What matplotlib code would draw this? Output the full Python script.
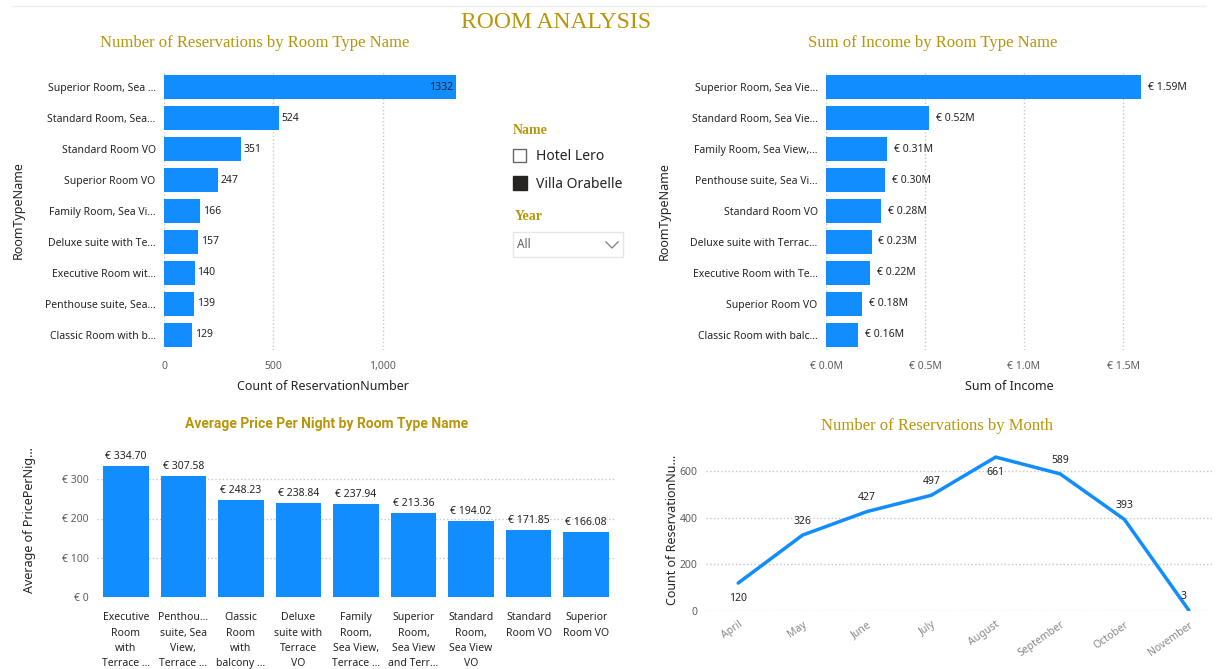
import numpy as np
import matplotlib
matplotlib.use("Agg")
import matplotlib.pyplot as plt
from matplotlib.patches import Rectangle
from matplotlib.lines import Line2D

rooms_count = ['Superior Room, Sea ...', 'Standard Room, Sea...', 'Standard Room VO',
               'Superior Room VO', 'Family Room, Sea Vi...', 'Deluxe suite with Te...',
               'Executive Room wit...', 'Penthouse suite, Sea...', 'Classic Room with b...']
count_values = [1332, 524, 351, 247, 166, 157, 140, 139, 129]

rooms_income = ['Superior Room, Sea Vie...', 'Standard Room, Sea Vie...', 'Family Room, Sea View,...',
                'Penthouse suite, Sea Vi...', 'Standard Room VO', 'Deluxe suite with Terrac...',
                'Executive Room with Te...', 'Superior Room VO', 'Classic Room with balc...']
income_values = [1.59, 0.52, 0.31, 0.30, 0.28, 0.23, 0.22, 0.18, 0.16]  # millions

rooms_price = ['Executive\nRoom\nwith\nTerrace ...', 'Penthou...\nsuite, Sea\nView,\nTerrace ...',
               'Classic\nRoom\nwith\nbalcony ...', 'Deluxe\nsuite with\nTerrace\nVO',
               'Family\nRoom,\nSea View,\nTerrace ...', 'Superior\nRoom,\nSea View\nand Terr...',
               'Standard\nRoom,\nSea View\nVO', 'Standard\nRoom VO', 'Superior\nRoom VO']
price_values = [334.70, 307.58, 248.23, 238.84, 237.94, 213.36, 194.02, 171.85, 166.08]

months = ['April', 'May', 'June', 'July', 'August', 'September', 'October', 'November']
month_values = [120, 326, 427, 497, 661, 589, 393, 3]

BLUE = '#118DFF'
GOLD = '#B8960C'
DARK = '#252423'
GRAY = '#605E5C'
SANS = ['Noto Sans', 'DejaVu Sans']
SERIF = ['Liberation Serif', 'DejaVu Serif']

W, H = 1217, 669
fig = plt.figure(figsize=(W / 100, H / 100), dpi=100)
fig.patch.set_facecolor('white')


def px_axes(x0, y0, x1, y1):
    return fig.add_axes([x0 / W, 1 - y1 / H, (x1 - x0) / W, (y1 - y0) / H])


def ftext(x, y, s, **kw):
    fig.text(x / W, 1 - y / H, s, **kw)


def clean(ax):
    for sp in ax.spines.values():
        sp.set_visible(False)
    ax.tick_params(length=0)


fig.add_artist(Line2D([0.01, 0.99], [1 - 6 / H, 1 - 6 / H], color='#EFEFEF', lw=1))
ftext(556, 23, 'ROOM ANALYSIS', family=SERIF, fontsize=17, color=GOLD, ha='center', va='center')

# ---- top left: count by room type
ax1 = px_axes(164, 72, 456, 350)
y = np.arange(len(rooms_count))
ax1.barh(y, count_values, height=0.78, color=BLUE, zorder=2)
ax1.set_ylim(len(y) - 0.5, -0.5)
ax1.set_xlim(0, 1334)
ax1.set_yticks(y)
ax1.set_yticklabels(rooms_count, family=SANS, fontsize=7.5, color=DARK)
ax1.set_xticks([0, 500, 1000])
ax1.set_xticklabels(['0', '500', '1,000'], family=SANS, fontsize=7.5, color=GRAY)
ax1.tick_params(axis='y', pad=6)
ax1.tick_params(axis='x', pad=8)
ax1.grid(axis='x', ls=':', color='#C8C8C8', lw=1, zorder=0)
clean(ax1)
for i, v in enumerate(count_values):
    if v > 1000:
        ax1.text(v - 12, i, str(v), ha='right', va='center', family=SANS, fontsize=7.5, color=DARK)
    else:
        ax1.text(v + 12, i, str(v), ha='left', va='center', family=SANS, fontsize=7.5, color=DARK)
ftext(323, 386, 'Count of ReservationNumber', family=SANS, fontsize=9, color=DARK, ha='center', va='center')
ftext(18, 210, 'RoomTypeName', family=SANS, fontsize=9, color=DARK, rotation=90, ha='center', va='center')
ftext(255, 43, 'Number of Reservations by Room Type Name', family=SERIF, fontsize=12, color=GOLD,
      ha='center', va='center')

# ---- top right: income by room type
ax2 = px_axes(826, 72, 1150, 350)
ax2.barh(y, income_values, height=0.78, color=BLUE, zorder=2)
ax2.set_ylim(len(y) - 0.5, -0.5)
ax2.set_xlim(0, 1.636)
ax2.set_yticks(y)
ax2.set_yticklabels(rooms_income, family=SANS, fontsize=7.5, color=DARK)
ax2.set_xticks([0, 0.5, 1.0, 1.5])
ax2.set_xticklabels(['€ 0.0M', '€ 0.5M', '€ 1.0M', '€ 1.5M'], family=SANS, fontsize=7.5, color=GRAY)
ax2.tick_params(axis='y', pad=6)
ax2.tick_params(axis='x', pad=8)
ax2.grid(axis='x', ls=':', color='#C8C8C8', lw=1, zorder=0)
clean(ax2)
for i, v in enumerate(income_values):
    ax2.text(v + 0.035, i, '€ %.2fM' % v, ha='left', va='center', family=SANS, fontsize=7.5, color=DARK)
ftext(1009, 386, 'Sum of Income', family=SANS, fontsize=9, color=DARK, ha='center', va='center')
ftext(664, 211, 'RoomTypeName', family=SANS, fontsize=9, color=DARK, rotation=90, ha='center', va='center')
ftext(933, 43, 'Sum of Income by Room Type Name', family=SERIF, fontsize=12, color=GOLD,
      ha='center', va='center')

# ---- slicers
ftext(513, 131, 'Name', family=SERIF, fontsize=10, color=GOLD, weight='bold', va='center')
fig.add_artist(Rectangle((513 / W, 1 - 162 / H), 13 / W, 13 / H, fill=False, ec='#666666', lw=1))
ftext(536, 157, 'Hotel Lero', family=SANS, fontsize=10, color=DARK, va='center')
fig.add_artist(Rectangle((513 / W, 1 - 190 / H), 14 / W, 14 / H, fc='#252423', ec='#252423'))
ftext(536, 184, 'Villa Orabelle', family=SANS, fontsize=10, color=DARK, va='center')
ftext(515, 216, 'Year', family=SERIF, fontsize=10, color=GOLD, weight='bold', va='center')
fig.add_artist(Rectangle((513 / W, 1 - 257 / H), 110 / W, 25 / H, fill=False, ec='#E6E6E6', lw=1))
ftext(517, 245, 'All', family=SANS, fontsize=8.5, color=GRAY, va='center')
fig.add_artist(Line2D([606 / W, 612 / W, 618 / W], [1 - 242 / H, 1 - 248 / H, 1 - 242 / H],
                      color='#888888', lw=1))

# ---- bottom left: average price per night
ax3 = px_axes(97, 440, 615, 597)
x = np.arange(len(rooms_price))
ax3.bar(x, price_values, width=0.79, color=BLUE, zorder=2)
ax3.set_xlim(-0.5, len(x) - 0.5)
ax3.set_ylim(0, 400)
ax3.set_yticks([0, 100, 200, 300])
ax3.set_yticklabels(['€ 0', '€ 100', '€ 200', '€ 300'], family=SANS, fontsize=7.5, color=GRAY)
ax3.set_xticks(x)
ax3.set_xticklabels(rooms_price, family=SANS, fontsize=7.5, color=DARK, linespacing=1.55, va='top')
ax3.tick_params(axis='x', pad=11)
ax3.tick_params(axis='y', pad=6)
ax3.grid(axis='y', ls=':', color='#C8C8C8', lw=1, zorder=0)
clean(ax3)
for i, v in enumerate(price_values):
    ax3.text(i, v + 10, '€ %.2f' % v, ha='center', va='bottom', family=SANS, fontsize=7.5, color=DARK)
ftext(30, 520, 'Average of PricePerNig...', family=SANS, fontsize=9, color=DARK, rotation=90,
      ha='center', va='center')
ftext(327, 424, 'Average Price Per Night by Room Type Name', family=['Roboto', 'DejaVu Sans'],
      fontsize=10, weight='bold', color=GOLD, ha='center', va='center')

# ---- bottom right: reservations by month
ax4 = px_axes(706, 448, 1212, 611)
m = np.arange(len(months))
ax4.plot(m, month_values, color=BLUE, lw=2.5, zorder=3, solid_capstyle='round')
ax4.set_xlim(-0.5, 7.36)
ax4.set_ylim(0, 700)
ax4.set_yticks([0, 200, 400, 600])
ax4.set_yticklabels(['0', '200', '400', '600'], family=SANS, fontsize=7.5, color=GRAY)
ax4.set_xticks(m)
ax4.set_xticklabels(months, family=SANS, fontsize=7.5, color='#8A8886', rotation=35,
                    ha='right', rotation_mode='anchor')
ax4.tick_params(axis='x', pad=6)
ax4.tick_params(axis='y', pad=6)
ax4.grid(axis='y', ls=':', color='#C8C8C8', lw=1, zorder=0)
clean(ax4)
below = {0, 4}
for i, v in enumerate(month_values):
    if i in below:
        ax4.annotate(str(v), (i, v), xytext=(0, -7), textcoords='offset points', ha='center', va='top',
                     family=SANS, fontsize=7.5, color=DARK)
    else:
        ax4.annotate(str(v), (i, v), xytext=(-4 if i == 7 else 0, 6), textcoords='offset points',
                     ha='center', va='bottom', family=SANS, fontsize=7.5, color=DARK)
ftext(672, 530, 'Count of ReservationNu...', family=SANS, fontsize=9, color=DARK, rotation=90,
      ha='center', va='center')
ftext(937, 426, 'Number of Reservations by Month', family=SERIF, fontsize=12, color=GOLD,
      ha='center', va='center')

fig.savefig('out.png', dpi=100, facecolor='white')
